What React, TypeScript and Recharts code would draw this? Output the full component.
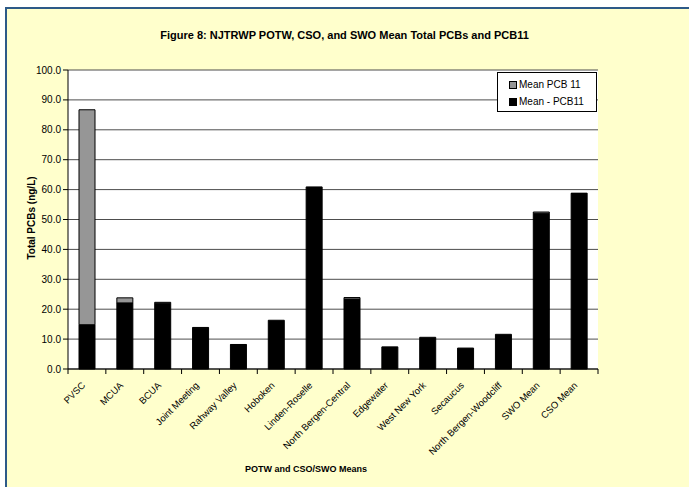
import React from 'react';
import { BarChart, Bar, XAxis, YAxis, CartesianGrid, Legend } from 'recharts';

const categories = [
  'PVSC', 'MCUA', 'BCUA', 'Joint Meeting', 'Rahway Valley', 'Hoboken', 'Linden-Roselle',
  'North Bergen-Central', 'Edgewater', 'West New York', 'Secaucus', 'North Bergen-Woodcliff',
  'SWO Mean', 'CSO Mean',
];
// mean total PCBs minus PCB11 (black, bottom)
const meanMinusPcb11 = [14.8, 22.1, 22.0, 13.7, 8.1, 16.3, 60.9, 23.4, 7.4, 10.6, 7.0, 11.6, 52.1, 58.7];
// PCB11 portion (gray, stacked on top)
const meanPcb11 = [71.9, 1.7, 0.3, 0.2, 0.1, 0.0, 0.0, 0.5, 0.0, 0.0, 0.0, 0.0, 0.4, 0.1];
const yTicks = [0, 10, 20, 30, 40, 50, 60, 70, 80, 90, 100];

const data = categories.map((name, i) => ({ name, base: meanMinusPcb11[i], pcb11: meanPcb11[i] }));

const FONT = "Arial, 'Liberation Sans', sans-serif";
const CHART_W = 689;
const CHART_H = 487;
const MARGIN = { top: 70, right: 91, bottom: 87, left: 8 };
const Y_AXIS_W = 60;
const PLOT_W = CHART_W - MARGIN.left - MARGIN.right - Y_AXIS_W;

// rotated label plus Excel-style tick marks on the category boundaries
const AngledTick = (props: any) => {
  const { x, y, payload, index, visibleTicksCount, width } = props;
  let half = PLOT_W / categories.length / 2;
  if (payload && Number(payload.offset) > 0) half = Number(payload.offset);
  else if (Number(width) > 0 && visibleTicksCount > 0) half = Number(width) / visibleTicksCount / 2;
  const ax = x - 1;
  const ay = y + 17;
  const isLast = index === visibleTicksCount - 1;
  return (
    <g>
      <line x1={x - half} x2={x - half} y1={y} y2={y + 5} stroke="#000000" strokeWidth={1} />
      {isLast && <line x1={x + half} x2={x + half} y1={y} y2={y + 5} stroke="#000000" strokeWidth={1} />}
      <text
        x={ax}
        y={ay}
        transform={`rotate(-45 ${ax} ${ay})`}
        textAnchor="end"
        fontSize={9.5}
        fontFamily={FONT}
        fill="#000"
      >
        {payload.value}
      </text>
    </g>
  );
};

const LegendBox = () => (
  <div
    style={{
      width: 100,
      height: 40,
      background: '#fff',
      border: '1px solid #000',
      fontFamily: FONT,
      fontSize: 10,
      color: '#000',
      boxSizing: 'border-box',
      paddingLeft: 11,
      paddingTop: 3,
      lineHeight: '17px',
    }}
  >
    <div style={{ display: 'flex', alignItems: 'center' }}>
      <span style={{ width: 6, height: 6, background: '#969696', border: '1px solid #000', marginRight: 2 }} />
      Mean PCB 11
    </div>
    <div style={{ display: 'flex', alignItems: 'center' }}>
      <span style={{ width: 6, height: 6, background: '#000', border: '1px solid #000', marginRight: 2 }} />
      Mean - PCB11
    </div>
  </div>
);

export default function App() {
  return (
    <div style={{ position: 'absolute', left: 0, top: 0, width: CHART_W, height: CHART_H, background: '#fff', overflow: 'hidden' }}>
      <div
        style={{
          position: 'absolute',
          left: 5,
          top: 7,
          width: 700,
          height: 500,
          background: '#FFFFCC',
          borderLeft: '2px solid #2D5A88',
          borderTop: '2px solid #2D5A88',
        }}
      />
      <div
        style={{
          position: 'absolute',
          left: 0,
          top: 29,
          width: CHART_W,
          textAlign: 'center',
          fontFamily: FONT,
          fontWeight: 'bold',
          fontSize: 11,
        }}
      >
        Figure 8: NJTRWP POTW, CSO, and SWO Mean Total PCBs and PCB11
      </div>
      <div
        style={{
          position: 'absolute',
          left: 206,
          top: 464,
          width: 200,
          textAlign: 'center',
          fontFamily: FONT,
          fontWeight: 'bold',
          fontSize: 9,
        }}
      >
        POTW and CSO/SWO Means
      </div>
      <div
        style={{
          position: 'absolute',
          left: 31,
          top: 218,
          transform: 'translate(-50%, -50%) rotate(-90deg)',
          whiteSpace: 'nowrap',
          fontFamily: FONT,
          fontWeight: 'bold',
          fontSize: 10,
        }}
      >
        Total PCBs (ng/L)
      </div>
      <div style={{ position: 'absolute', left: 0, top: 0 }}>
        <BarChart width={CHART_W} height={CHART_H} data={data} margin={MARGIN} barSize={16}>
          <CartesianGrid
            vertical={false}
            stroke="#4d4d4d"
            fill="#ffffff"
            fillOpacity={1}
            yAxisId="left"
            xAxisId="cat"
          />
          <XAxis
            xAxisId="cat"
            dataKey="name"
            interval={0}
            height={31}
            axisLine={{ stroke: '#000' }}
            tickLine={false}
            tickSize={0}
            tickMargin={0}
            tick={<AngledTick />}
          />
          <YAxis
            yAxisId="left"
            domain={[0, 100]}
            ticks={yTicks}
            interval={0}
            width={Y_AXIS_W}
            tickFormatter={(v: number) => v.toFixed(1)}
            tick={{ fontSize: 10, fontFamily: FONT, fill: '#000' }}
            tickSize={5}
            axisLine={{ stroke: '#000' }}
            tickLine={{ stroke: '#000' }}
          />
          <YAxis
            yAxisId="right"
            orientation="right"
            domain={[0, 100]}
            width={0}
            tick={false}
            tickLine={false}
            axisLine={{ stroke: '#808080' }}
          />
          <Legend
            layout="horizontal"
            verticalAlign="middle"
            align="center"
            content={<LegendBox />}
            wrapperStyle={{ position: 'absolute', left: 497, top: 72, width: 100 }}
          />
          <Bar
            xAxisId="cat"
            yAxisId="left"
            dataKey="base"
            stackId="a"
            fill="#000"
            stroke="#000"
            strokeWidth={1}
            isAnimationActive={false}
          />
          <Bar
            xAxisId="cat"
            yAxisId="left"
            dataKey="pcb11"
            stackId="a"
            fill="#969696"
            stroke="#000"
            strokeWidth={1}
            isAnimationActive={false}
          />
        </BarChart>
      </div>
    </div>
  );
}
